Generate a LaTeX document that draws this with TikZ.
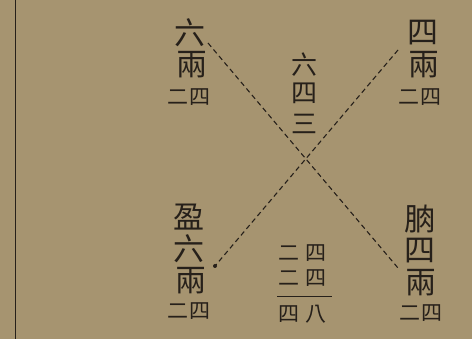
\documentclass[tikz,border=0pt]{standalone}
\usepackage{fontspec}
\newfontfamily\cjk{Noto Sans CJK TC}
\definecolor{paper}{RGB}{166,148,112}
\definecolor{ink}{RGB}{38,32,26}
\begin{document}
\begin{tikzpicture}[x=1pt,y=-1pt,
  big/.style={inner sep=0pt,font=\cjk\fontsize{31}{31}\selectfont,text=ink},
  mid/.style={inner sep=0pt,font=\cjk\fontsize{26}{26}\selectfont,text=ink},
  small/.style={inner sep=0pt,font=\cjk\fontsize{21}{21}\selectfont,text=ink},
  crossline/.style={draw=ink,line width=1.1pt,dash pattern=on 5pt off 3.5pt}]
\fill[paper] (0,0) rectangle (472,339);
\useasboundingbox (0,0) rectangle (472,339);
\draw[ink,line width=1pt] (15,0) -- (15,339);
% top left
\node[big] (tl1) at (190,33) {六};
\node[big] (tl2) at (192,65) {兩};
\node[small] (tl3a) at (178,97) {二};
\node[small] (tl3b) at (200,97) {四};
% top right
\node[big] (tr1) at (423,33) {四};
\node[big] (tr2) at (424,65) {兩};
\node[small] (tr3a) at (409,97) {二};
\node[small] (tr3b) at (431,97) {四};
% center
\node[mid] (c1) at (304,65) {六};
\node[mid] (c2) at (304,93) {四};
\node[mid] (c3) at (304,124) {三};
% bottom left
\node[big] (bl1) at (189,217) {盈};
\node[big] (bl2) at (189,249) {六};
\node[big] (bl3) at (191,281) {兩};
\node[small] (bl4a) at (178,311) {二};
\node[small] (bl4b) at (200,311) {四};
% bottom right
\node[big] (br1) at (420,219) {朒};
\node[big] (br2) at (420,251) {四};
\node[big] (br3) at (421,283) {兩};
\node[small] (br4a) at (410,313) {二};
\node[small] (br4b) at (432,313) {四};
% bottom center
\node[small] (m1a) at (289,253) {二};
\node[small] (m1b) at (316,253) {四};
\node[small] (m2a) at (289,278) {二};
\node[small] (m2b) at (316,278) {四};
\node[small] (m3a) at (289,314) {四};
\node[small] (m3b) at (316,314) {八};
\coordinate (barL) at (277,296);
\coordinate (barR) at (332,296);
\draw[ink,line width=0.6pt] (barL) -- (barR);
% crossing dashed lines
\coordinate (a1) at (208,43);
\coordinate (a2) at (398,268);
\coordinate (b1) at (398,50);
\coordinate (b2) at (215,266);
\draw[crossline] (a1) -- (a2);
\draw[crossline] (b1) -- (b2);
\fill[ink] (b2) circle (2pt);
\end{tikzpicture}
\end{document}
